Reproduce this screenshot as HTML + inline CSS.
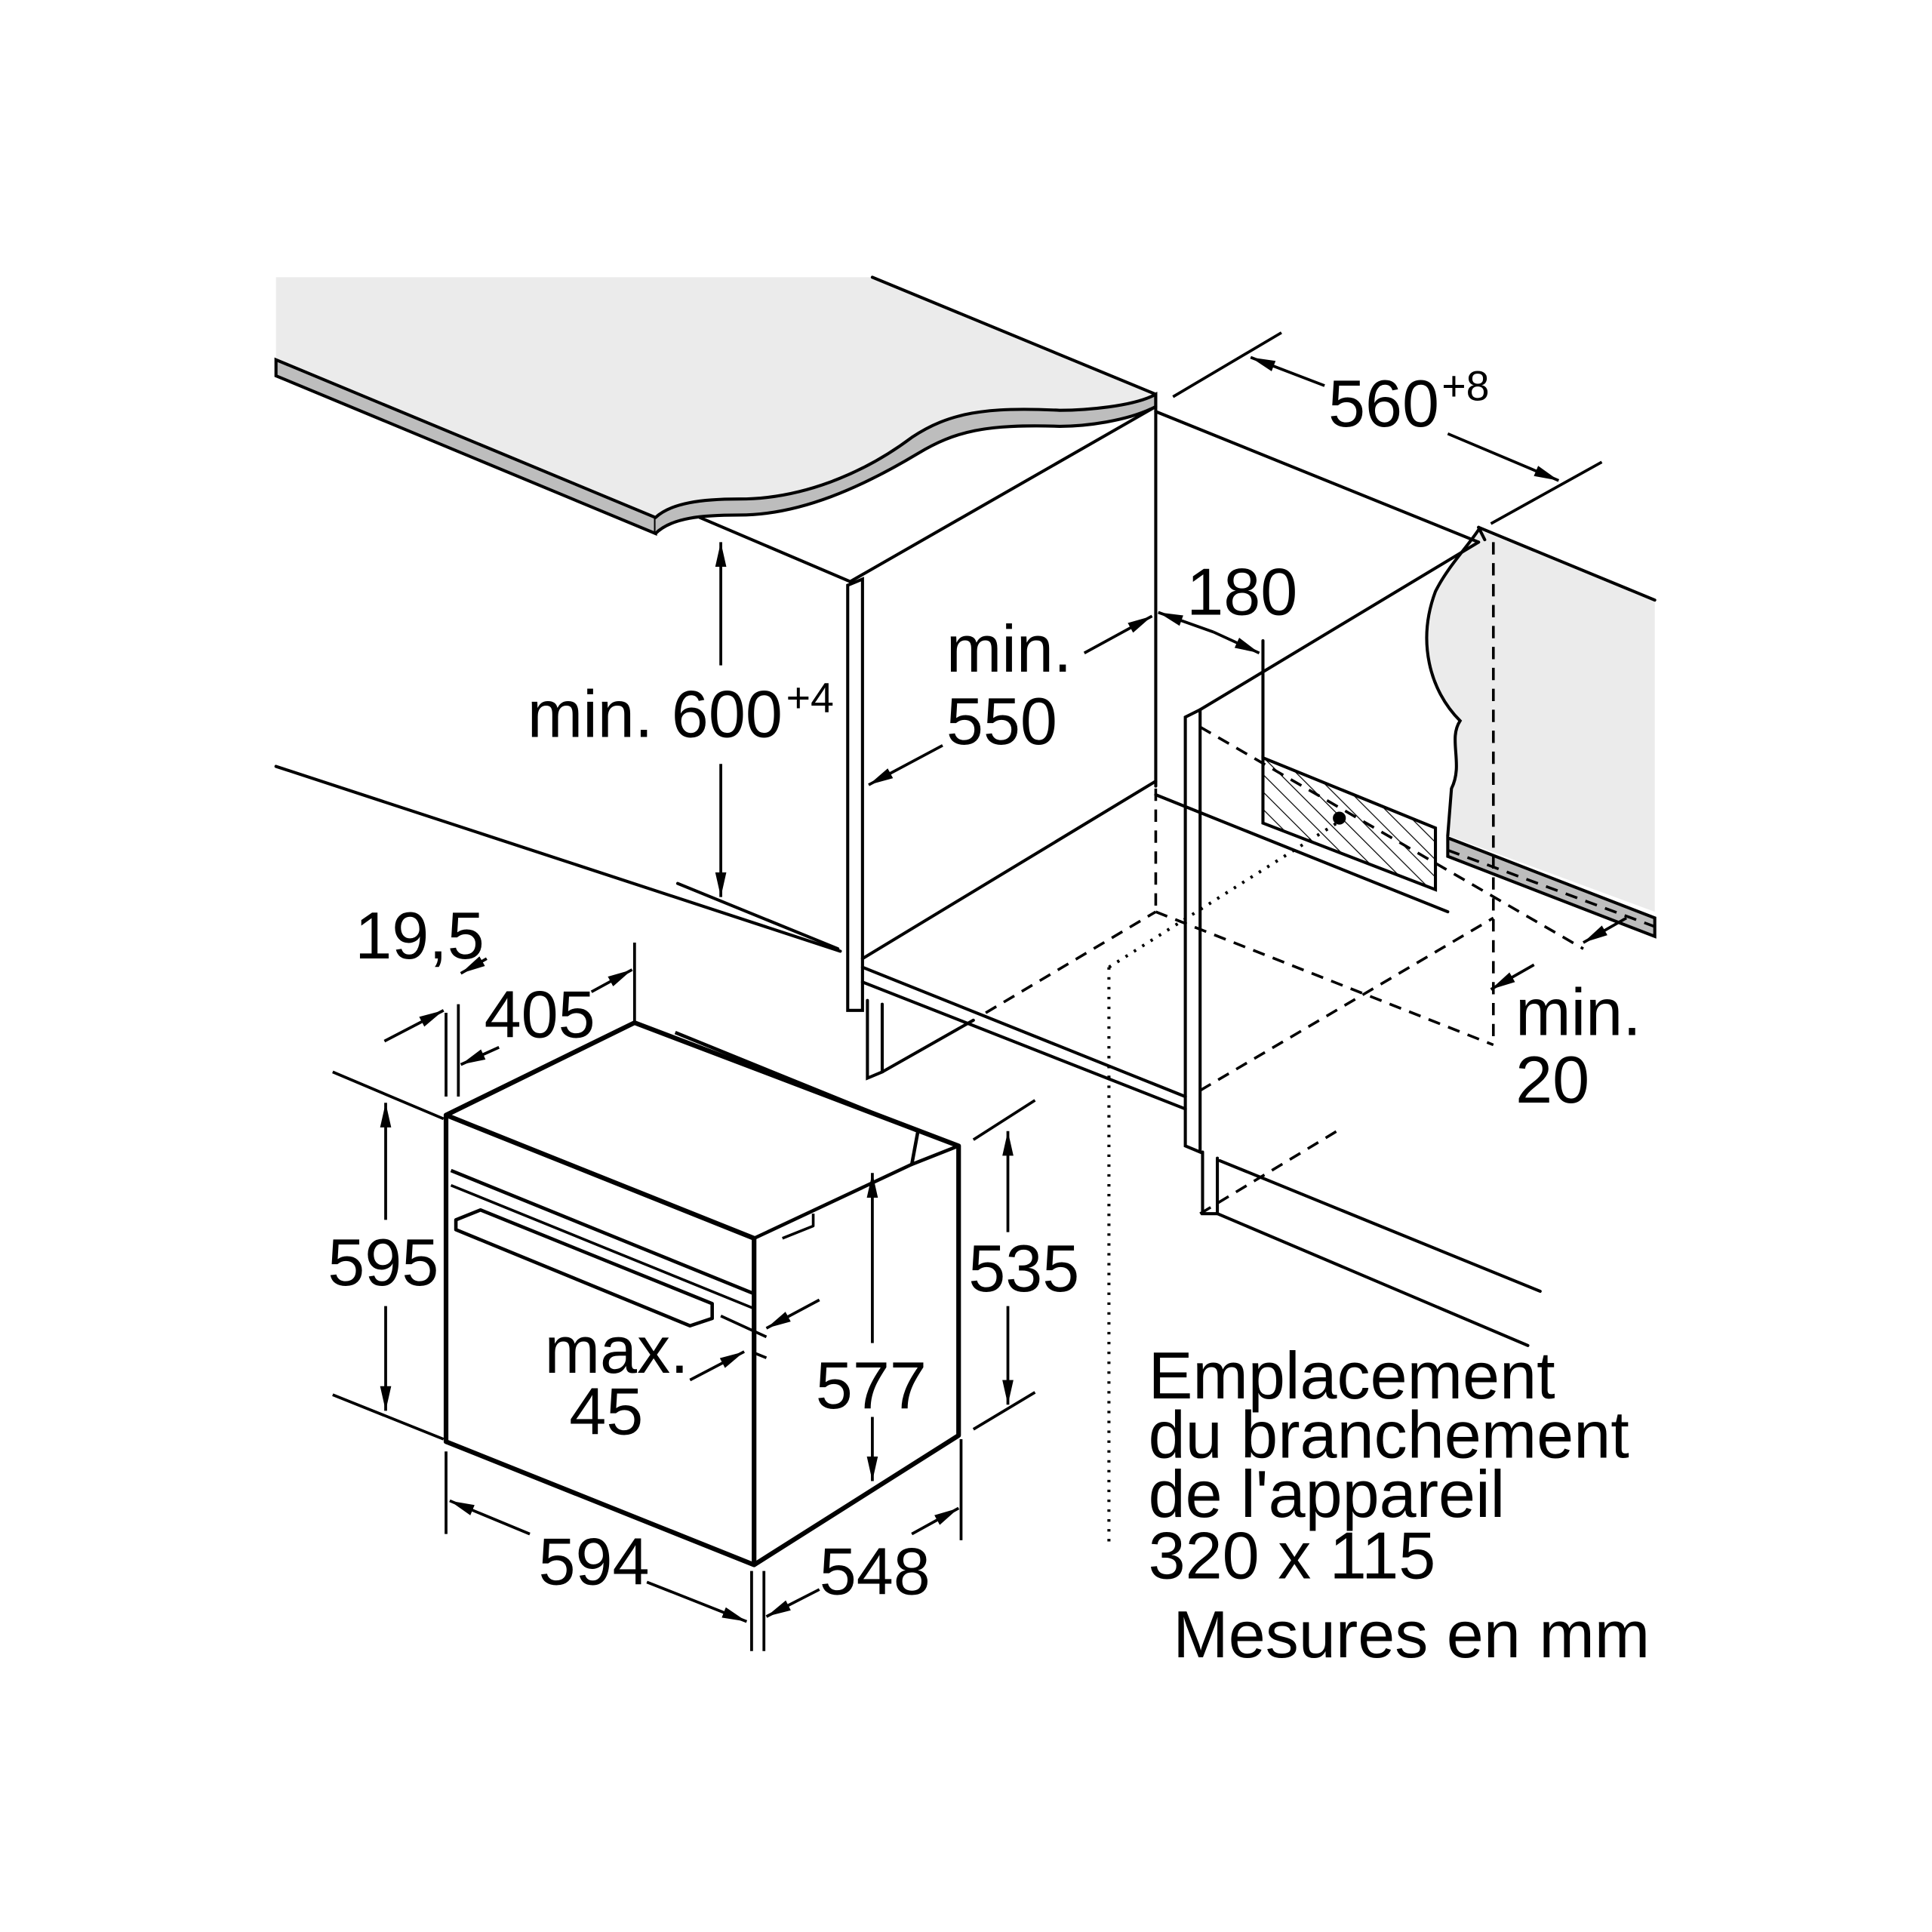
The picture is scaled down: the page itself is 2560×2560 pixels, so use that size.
<!DOCTYPE html>
<html><head><style>html,body{margin:0;padding:0;background:#fff}svg{display:block}</style></head>
<body>
<svg width="2560" height="2560" viewBox="0 0 1568 1568" xmlns="http://www.w3.org/2000/svg" font-family="Liberation Sans, sans-serif">
<defs>
<marker id="a" viewBox="0 0 20 10" refX="20" refY="5" markerWidth="20" markerHeight="10" markerUnits="userSpaceOnUse" orient="auto-start-reverse"><path d="M0,0.5 L20,5 L0,9.5 z" fill="#000"/></marker>
<pattern id="h" width="10" height="10" patternUnits="userSpaceOnUse" patternTransform="rotate(-45)"><line x1="0" y1="0" x2="0" y2="10" stroke="#000" stroke-width="1.5"/></pattern>
</defs>
<g stroke="#000" stroke-width="2.5" fill="none" stroke-linecap="round">
<path d="M224,225 L708,225 L938,320 C920,330 880,333 860,333 C800,330 770,335 740,355 C700,385 650,405 600,405 C570,405 545,408 532,420 L224,292 Z" fill="#ebebeb" stroke="none"/>
<path d="M224,292 L532,420 L532,433 L224,305 Z" fill="#bdbdbd"/>
<path d="M532,420 C545,408 570,405 600,405 C650,405 700,385 740,355 C770,335 800,330 860,333 C880,333 920,330 938,320 L938,330 C915,342 880,346 860,346 C800,344 775,350 745,368 C700,395 650,418 600,418 C570,418 545,420 532,433" fill="#bdbdbd"/>
<line x1="708" y1="225" x2="938" y2="320"/>
<path d="M1200,430 L1343,487 L1343,740 L1175,678 L1178,640 C1188,620 1175,600 1185,585 C1160,560 1150,520 1165,480 C1175,460 1190,445 1200,430 Z" fill="#ebebeb" stroke="none"/>
<path d="M1200,430 C1190,445 1175,460 1165,480 C1150,520 1160,560 1185,585 C1175,600 1188,620 1178,640 L1175,678"/>
<path d="M1175,680 L1343,745 L1343,760 L1175,695 Z" fill="#bdbdbd"/>
<line x1="1200" y1="428" x2="1343" y2="487"/>
<line x1="1200" y1="428" x2="1205" y2="438"/>
<line x1="938" y1="320" x2="938" y2="638"/>
<line x1="938" y1="334" x2="1200" y2="440"/>
<line x1="690" y1="472" x2="938" y2="330"/>
<line x1="568" y1="420" x2="690" y2="472"/>
<path d="M688,475 L700,470 L700,820 L688,820 Z"/>
<line x1="700" y1="778" x2="938" y2="634"/>
<line x1="938" y1="645" x2="1175" y2="740"/>
<line x1="224" y1="622" x2="682" y2="772"/>
<line x1="550" y1="717" x2="680" y2="770"/>
<line x1="700" y1="785" x2="962" y2="890"/>
<line x1="700" y1="797" x2="962" y2="900"/>
<path d="M704,812 L704,875 L716,870 L716,815 M716,870 L790,828"/>
<path d="M962,582 L974,576 L974,935 L962,930 Z"/>
<line x1="974" y1="576" x2="1200" y2="440"/>
<path d="M976,935 L976,985 L988,985 L988,940"/>
<line x1="988" y1="985" x2="1240" y2="1092"/>
<line x1="990" y1="942" x2="1250" y2="1048"/>
<line x1="1025" y1="520" x2="1025" y2="615"/>
<path d="M1025,615 L1165,672 L1165,722 L1025,668 Z" fill="url(#h)"/>
<circle cx="1087" cy="664" r="4" fill="#000"/>
</g>
<g stroke="#000" stroke-width="2.2" fill="none" stroke-dasharray="10,7">
<line x1="938" y1="640" x2="938" y2="740"/>
<line x1="938" y1="740" x2="1212" y2="848"/>
<line x1="800" y1="822" x2="938" y2="740"/>
<line x1="974" y1="885" x2="1212" y2="745"/>
<line x1="974" y1="590" x2="1285" y2="770"/>
<line x1="1212" y1="440" x2="1212" y2="848"/>
<line x1="974" y1="985" x2="1090" y2="915"/>
<line x1="1175" y1="690" x2="1343" y2="752"/>
</g>
<g stroke="#000" stroke-width="2.5" fill="none" stroke-dasharray="2,6">
<line x1="900" y1="785" x2="900" y2="1255"/>
<line x1="900" y1="785" x2="1085" y2="668"/>
</g>
<g stroke="#000" stroke-width="3.8" fill="none" stroke-linejoin="round">
<path d="M362,905 L515,830 L778,930 L778,1165 L612,1270 L362,1170 Z"/>
<line x1="362" y1="905" x2="612" y2="1005"/>
<line x1="612" y1="1005" x2="612" y2="1270"/>
<path d="M548,838 L745,918 L740,945 L778,930" stroke-width="2.8"/>
<line x1="612" y1="1005" x2="740" y2="945" stroke-width="2.8"/>
<line x1="366" y1="950" x2="612" y2="1050" stroke-width="2.8"/>
<line x1="366" y1="962" x2="612" y2="1062" stroke-width="2.2"/>
<path d="M370,990 L390,982 L578,1058 L578,1070 L560,1076 L370,998 Z" stroke-width="2.8"/>
<path d="M635,1005 L660,995 L660,985" stroke-width="2.2"/>
</g>
<g stroke="#000" stroke-width="2.3" fill="none">
<line x1="952" y1="322" x2="1040" y2="270"/>
<line x1="1210" y1="425" x2="1300" y2="375"/>
<line x1="1075" y1="313" x2="1015" y2="290" marker-end="url(#a)"/>
<line x1="1175" y1="352" x2="1265" y2="390" marker-end="url(#a)"/>
<line x1="985" y1="513" x2="940" y2="497" marker-end="url(#a)"/>
<line x1="985" y1="513" x2="1022" y2="530" marker-end="url(#a)"/>
<line x1="880" y1="530" x2="935" y2="500" marker-end="url(#a)"/>
<line x1="765" y1="605" x2="705" y2="637" marker-end="url(#a)"/>
<line x1="585" y1="540" x2="585" y2="440" marker-end="url(#a)"/>
<line x1="585" y1="620" x2="585" y2="728" marker-end="url(#a)"/>
<line x1="1245" y1="783" x2="1210" y2="803" marker-end="url(#a)"/>
<line x1="1320" y1="745" x2="1285" y2="765" marker-end="url(#a)"/>
<line x1="270" y1="870" x2="360" y2="908"/>
<line x1="270" y1="1132" x2="360" y2="1168"/>
<line x1="313" y1="990" x2="313" y2="895" marker-end="url(#a)"/>
<line x1="313" y1="1060" x2="313" y2="1145" marker-end="url(#a)"/>
<line x1="790" y1="925" x2="840" y2="893"/>
<line x1="790" y1="1160" x2="840" y2="1130"/>
<line x1="818" y1="1000" x2="818" y2="918" marker-end="url(#a)"/>
<line x1="818" y1="1060" x2="818" y2="1140" marker-end="url(#a)"/>
<line x1="708" y1="1090" x2="708" y2="952" marker-end="url(#a)"/>
<line x1="708" y1="1150" x2="708" y2="1202" marker-end="url(#a)"/>
<line x1="362" y1="1178" x2="362" y2="1245"/>
<line x1="610" y1="1275" x2="610" y2="1340"/>
<line x1="620" y1="1275" x2="620" y2="1340"/>
<line x1="780" y1="1168" x2="780" y2="1250"/>
<line x1="430" y1="1245" x2="365" y2="1218" marker-end="url(#a)"/>
<line x1="525" y1="1284" x2="606" y2="1316" marker-end="url(#a)"/>
<line x1="665" y1="1290" x2="622" y2="1312" marker-end="url(#a)"/>
<line x1="740" y1="1245" x2="778" y2="1224" marker-end="url(#a)"/>
<line x1="362" y1="822" x2="362" y2="890"/>
<line x1="372" y1="815" x2="372" y2="890"/>
<line x1="515" y1="765" x2="515" y2="830"/>
<line x1="312" y1="845" x2="360" y2="820" marker-end="url(#a)"/>
<line x1="395" y1="778" x2="374" y2="790" marker-end="url(#a)"/>
<line x1="405" y1="850" x2="374" y2="864" marker-end="url(#a)"/>
<line x1="480" y1="805" x2="513" y2="787" marker-end="url(#a)"/>
<line x1="585" y1="1068" x2="622" y2="1085"/>
<line x1="612" y1="1098" x2="622" y2="1102"/>
<line x1="665" y1="1055" x2="622" y2="1078" marker-end="url(#a)"/>
<line x1="560" y1="1120" x2="604" y2="1097" marker-end="url(#a)"/>
</g>
<g font-size="54" fill="#000">
<text x="1078" y="346">560</text><text x="1170" y="325" font-size="34">+8</text>
<text x="963" y="499">180</text>
<text x="768" y="545">min.</text><text x="768" y="604">550</text>
<text x="428" y="598">min. 600</text><text x="638" y="578" font-size="34">+4</text>
<text x="1230" y="840">min.</text><text x="1230" y="895">20</text>
<text x="288" y="778">19,5</text>
<text x="393" y="842">405</text>
<text x="266" y="1043">595</text>
<text x="786" y="1048">535</text>
<text x="662" y="1143">577</text>
<text x="442" y="1114">max.</text><text x="462" y="1164">45</text>
<text x="437" y="1286">594</text>
<text x="665" y="1294">548</text>
<text x="932" y="1135">Emplacement</text>
<text x="932" y="1183">du branchement</text>
<text x="932" y="1231">de l'appareil</text>
<text x="932" y="1281">320 x 115</text>
<text x="952" y="1345">Mesures en mm</text>
</g>
</svg>
</body></html>
